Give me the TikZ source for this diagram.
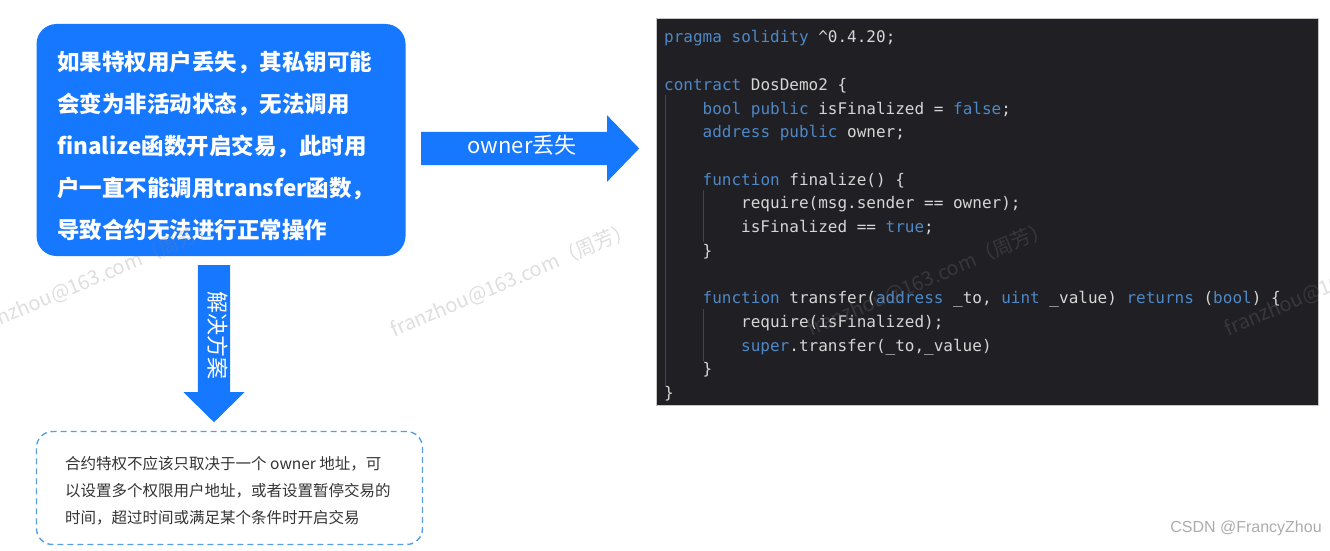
\documentclass[tikz,border=0pt]{standalone}
\usepackage{fontspec}
\usetikzlibrary{shapes.arrows}
\newfontfamily\cjk{Noto Sans CJK SC}
\newfontfamily\codefont{DejaVu Sans Mono}
\newfontfamily\signfont{Liberation Sans}
\definecolor{brand}{RGB}{22,119,255}
\definecolor{dashblue}{RGB}{88,158,230}
\definecolor{codebg}{RGB}{31,31,36}
\definecolor{codefg}{RGB}{214,214,214}
\definecolor{codekw}{RGB}{78,136,198}
\definecolor{guide}{RGB}{68,68,74}
\definecolor{ink}{RGB}{51,51,51}
\newcommand{\kw}[1]{\textcolor{codekw}{#1}}

\begin{document}
\begin{tikzpicture}[x=1pt,y=-1pt,
  infobox/.style={fill=brand,rounded corners=20pt,minimum width=369pt,minimum height=232pt,inner sep=0pt},
  notebox/.style={draw=dashblue,line width=1.4pt,dash pattern=on 6pt off 4pt,rounded corners=16pt,minimum width=386pt,minimum height=113pt,inner sep=0pt},
  codebox/.style={fill=codebg,draw=gray!45,line width=0.8pt,minimum width=662pt,minimum height=387pt,inner sep=0pt},
  boxline/.style={anchor=base west,inner sep=0pt,text=white,font=\cjk\bfseries\fontsize{22.5}{26}\selectfont},
  noteline/.style={anchor=base west,inner sep=0pt,text=ink,font=\cjk\fontsize{15.5}{18}\selectfont},
  codeline/.style={anchor=base west,inner sep=0pt,text=codefg,font=\codefont\fontsize{16}{20}\selectfont},
  blockarrow/.style={shape=single arrow,fill=brand,anchor=tail,text=white,font=\cjk\fontsize{22}{24}\selectfont,text height=15pt,text depth=5pt},
  guideline/.style={draw=guide,line width=1pt},
  wmark/.style={rotate=23,text=gray,opacity=0.26,font=\cjk\fontsize{20}{22}\selectfont,inner sep=0pt},
  sign/.style={text=gray!65,font=\signfont\fontsize{16}{18}\selectfont,inner sep=0pt}]
\useasboundingbox (0,0) rectangle (1330,551);

% left: the problem
\node[infobox] (info) at (221,140) {};
\node[boxline] (b1) at (57,70.2) {如果特权用户丢失，其私钥可能};
\node[boxline] (b2) at (57,112.3) {会变为非活动状态，无法调用};
\node[boxline] (b3) at (57,154.4) {finalize函数开启交易，此时用};
\node[boxline] (b4) at (57,196.5) {户一直不能调用transfer函数，};
\node[boxline] (b5) at (57,238.6) {导致合约无法进行正常操作};

% arrows
\node[blockarrow,minimum height=218pt,inner ysep=6.5pt,single arrow head extend=16.5pt,
  single arrow tip angle=92] (lost) at (421,148.5) {owner丢失};
\node[blockarrow,rotate=-90,minimum height=157pt,inner ysep=6pt,single arrow head extend=14.5pt,
  single arrow tip angle=91] (fix) at (214,265) {解决方案};

% bottom: the fix
\node[notebox] (note) at (229.5,488) {};
\node[noteline] (s1) at (65,469) {合约特权不应该只取决于一个 owner 地址，可};
\node[noteline] (s2) at (65,496) {以设置多个权限用户地址，或者设置暂停交易的};
\node[noteline] (s3) at (65,523) {时间，超过时间或满足某个条件时开启交易};

% right: the contract
\node[codebox] (code) at (987,211.5) {};
\draw[guideline] (665,95) -- (665,386);
\draw[guideline] (703.5,190) -- (703.5,242);
\draw[guideline] (703.5,309) -- (703.5,361);
\node[codeline] (c1) at (664,43) {\kw{pragma solidity} \textasciicircum0.4.20;};
\node[codeline] (c2) at (664,90.4) {\kw{contract} DosDemo2 \{};
\node[codeline] (c3) at (702.5,114.1) {\kw{bool public} isFinalized = \kw{false};};
\node[codeline] (c4) at (702.5,137.8) {\kw{address public} owner;};
\node[codeline] (c5) at (702.5,185.2) {\kw{function} finalize() \{};
\node[codeline] (c6) at (741,208.9) {require(msg.sender == owner);};
\node[codeline] (c7) at (741,232.6) {isFinalized == \kw{true};};
\node[codeline] (c8) at (702.5,256.3) {\}};
\node[codeline] (c9) at (702.5,303.7) {\kw{function} transfer(\kw{address} \_to, \kw{uint} \_value) \kw{returns} (\kw{bool}) \{};
\node[codeline] (c10) at (741,327.4) {require(isFinalized);};
\node[codeline] (c11) at (741,351.1) {\kw{super}.transfer(\_to,\_value)};
\node[codeline] (c12) at (702.5,374.8) {\}};
\node[codeline] (c13) at (664,398.5) {\}};

% watermarks
\node[wmark] (w1) at (95,278) {franzhou@163.com（周芳）};
\node[wmark] (w2) at (512,280) {franzhou@163.com（周芳）};
\node[wmark] (w3) at (929,279) {franzhou@163.com（周芳）};
\node[wmark] (w4) at (1346,279) {franzhou@163.com（周芳）};
\node[sign] (csdn) at (1246,528) {CSDN @FrancyZhou};
\end{tikzpicture}
\end{document}
